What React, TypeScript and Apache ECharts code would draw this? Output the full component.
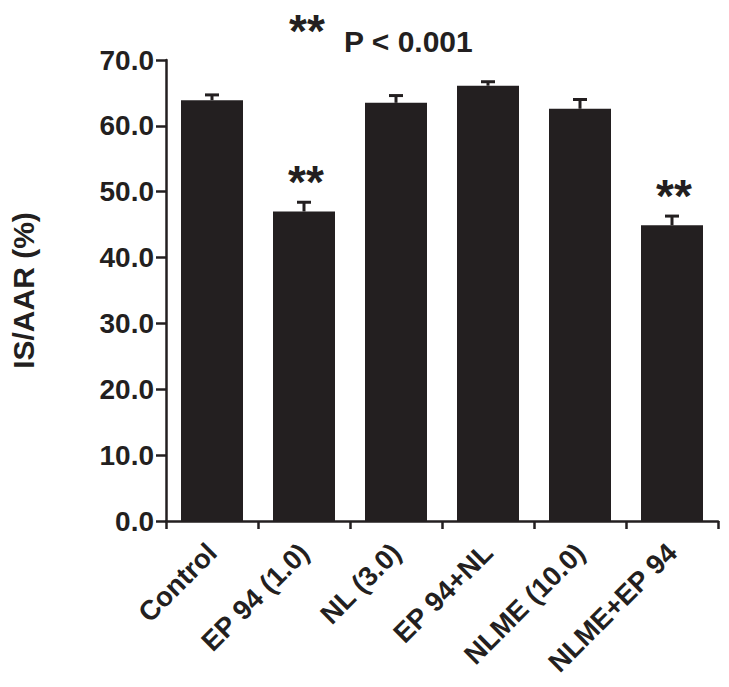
import React, { useEffect, useRef } from "react";
import * as echarts from "echarts";

const categories = ["Control", "EP 94 (1.0)", "NL (3.0)", "EP 94+NL", "NLME (10.0)", "NLME+EP 94"];
const means = [63.9, 47.0, 63.5, 66.1, 62.6, 44.9];
const errors = [0.8, 1.4, 1.1, 0.6, 1.4, 1.4];
const significance = ["", "**", "", "", "", "**"];
const yTicks = { min: 0, max: 70, interval: 10 };

const INK = "#231f20";
const FONT = "'Liberation Sans', Arial, Helvetica, sans-serif";

export default function App() {
  const ref = useRef<HTMLDivElement>(null);
  useEffect(() => {
    if (!ref.current) return;
    const chart = echarts.init(ref.current, undefined, { renderer: "svg" });
    const errData = means.map((m, i) => [i, m, errors[i], significance[i]]);
    chart.setOption({
      animation: false,
      backgroundColor: "#ffffff",
      grid: { left: 160, right: 11, top: 60, bottom: 166, containLabel: false },
      xAxis: {
        type: "category",
        data: categories,
        axisLine: { lineStyle: { color: INK, width: 2.5 } },
        axisTick: { show: true, length: 8, lineStyle: { color: INK, width: 2.5 } },
        axisLabel: {
          interval: 0,
          rotate: 45,
          margin: 27,
          color: INK,
          fontSize: 27.5,
          fontWeight: "bold",
          fontFamily: FONT,
        },
      },
      yAxis: {
        type: "value",
        min: yTicks.min,
        max: yTicks.max,
        interval: yTicks.interval,
        name: "IS/AAR (%)",
        nameLocation: "middle",
        nameGap: 128,
        nameTextStyle: { color: INK, fontSize: 30, fontWeight: "bold", fontFamily: FONT },
        axisLine: { show: true, lineStyle: { color: INK, width: 2.5 } },
        axisTick: { show: true, length: 10, lineStyle: { color: INK, width: 2.5 } },
        splitLine: { show: false },
        axisLabel: {
          margin: 12,
          color: INK,
          fontSize: 28,
          fontWeight: "bold",
          fontFamily: FONT,
          formatter: (v: number) => v.toFixed(1),
        },
      },
      series: [
        {
          type: "bar",
          data: means,
          barWidth: 62,
          itemStyle: { color: INK },
          z: 2,
        },
        {
          type: "custom",
          data: errData,
          z: 3,
          renderItem: (params: any, api: any) => {
            const i = api.value(0);
            const m = api.value(1);
            const e = api.value(2);
            const sig = errData[params.dataIndex][3] as string;
            const base = api.coord([i, m]);
            const top = api.coord([i, m + e]);
            const half = 7;
            const children: any[] = [
              {
                type: "line",
                shape: { x1: base[0], y1: base[1], x2: top[0], y2: top[1] },
                style: { stroke: INK, lineWidth: 3 },
              },
              {
                type: "line",
                shape: { x1: top[0] - half, y1: top[1], x2: top[0] + half, y2: top[1] },
                style: { stroke: INK, lineWidth: 3 },
              },
            ];
            if (sig) {
              children.push({
                type: "text",
                x: top[0] + 2,
                y: top[1] + 3,
                style: {
                  text: sig,
                  fill: INK,
                  font: `bold 46px ${FONT}`,
                  align: "center",
                  verticalAlign: "bottom",
                },
              });
            }
            return { type: "group", children };
          },
        },
      ],
      graphic: [
        {
          type: "text",
          left: 289,
          top: 8,
          style: { text: "**", fill: INK, font: `bold 46px ${FONT}` },
        },
        {
          type: "text",
          left: 344,
          top: 26,
          style: { text: "P < 0.001", fill: INK, font: `bold 30px ${FONT}` },
        },
      ],
    });
    return () => chart.dispose();
  }, []);
  return (
    <div
      ref={ref}
      style={{ position: "fixed", left: 0, top: 0, width: 729, height: 687, background: "#fff" }}
    />
  );
}
